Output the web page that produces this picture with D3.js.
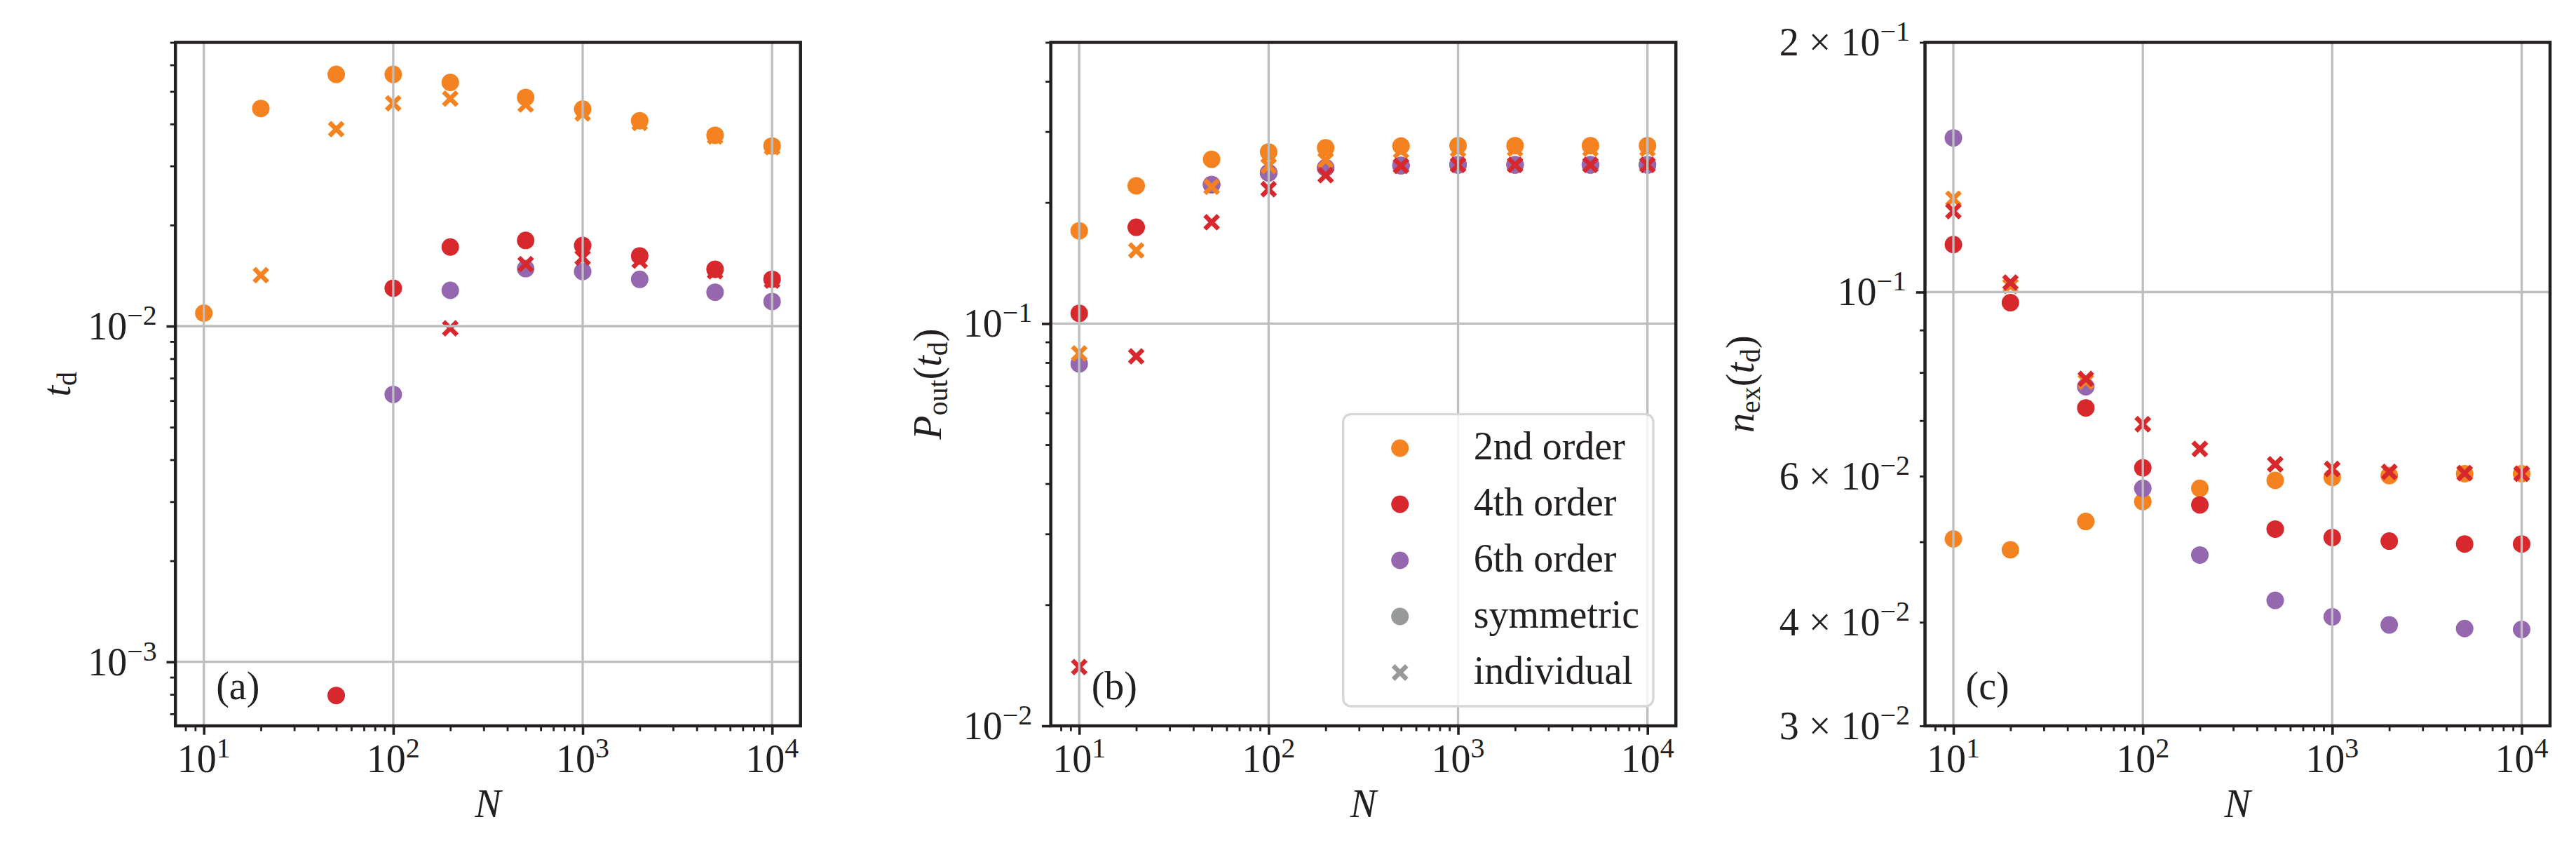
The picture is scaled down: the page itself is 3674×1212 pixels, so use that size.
<!DOCTYPE html>
<html>
<head>
<meta charset="utf-8">
<script src="https://cdn.jsdelivr.net/npm/d3@7"></script>
<style>
  body { margin: 0; background: #fff; }
  svg text { font-family: "Liberation Serif", "DejaVu Serif", serif; fill: #231f20; }
</style>
</head>
<body>
<svg id="fig" width="3674" height="1212"></svg>
<script>
// system sizes
const N = [10, 20, 50, 100, 200, 500, 1000, 2000, 5000, 10000];

// (a) t_d
const tdSym2 = [0.01093, 0.0445, 0.0562, 0.0562, 0.0532, 0.0480, 0.0443, 0.0409, 0.0370, 0.0344];
const tdInd2 = [null, 0.01418, 0.0386, 0.0461, 0.0476, 0.0457, 0.0430, 0.0403, 0.0367, 0.0341];
const tdSym4 = [null, null, 0.000794, 0.01297, 0.0172, 0.0180, 0.01739, 0.01618, 0.01477, 0.01379];
const tdInd4 = [null, null, null, null, 0.00985, 0.0153, 0.0160, 0.01567, 0.01456, 0.01366];
const tdSym6 = [null, null, null, 0.00626, 0.01278, 0.01483, 0.01454, 0.01378, 0.01262, 0.01184];

// (b) P_out(t_d)
const pSym2 = [0.170, 0.220, 0.256, 0.267, 0.2735, 0.2762, 0.2768, 0.2768, 0.2768, 0.2768];
const pInd2 = [0.0843, 0.152, 0.2187, 0.2466, 0.2548, 0.2689, 0.271, 0.272, 0.272, 0.272];
const pSym4 = [0.106, 0.1735, 0.2216, 0.237, 0.2439, 0.247, 0.248, 0.248, 0.248, 0.248];
const pInd4 = [0.0140, 0.0829, 0.1786, 0.2158, 0.2337, 0.2466, 0.248, 0.248, 0.248, 0.248];
const pSym6 = [0.0794, null, 0.2216, 0.237, 0.2439, 0.247, 0.248, 0.248, 0.248, 0.248];

// (c) n_ex(t_d)
const nSym2 = [0.0504, 0.0489, 0.0529, 0.0559, 0.0580, 0.0593, 0.0598, 0.0601, 0.0604, 0.0604];
const nInd2 = [0.1296, 0.1017, 0.0780, 0.0693, 0.0647, 0.0620, 0.0612, 0.0607, 0.0605, 0.0604];
const nSym4 = [0.1141, 0.0971, 0.0725, 0.0614, 0.0554, 0.0518, 0.0506, 0.0501, 0.0497, 0.0497];
const nInd4 = [0.1252, 0.1027, 0.0786, 0.0693, 0.0647, 0.0620, 0.0612, 0.0607, 0.0605, 0.0604];
const nSym6 = [0.1534, null, 0.0769, 0.0580, 0.0482, 0.0425, 0.0406, 0.0397, 0.0393, 0.0392];

const legendLabels = ["2nd order", "4th order", "6th order", "symmetric", "individual"];
const panelTags = ["(a)", "(b)", "(c)"];

const ink = "#231f20", gridCol = "#bcbec0";
const col = {o2: "#f58220", o4: "#d7282e", o6: "#9467ae", gray: "#98999b"};

const W = 891.5, H = 974.6, TOP = 60.4;
const lefts = [250.2, 1498.7, 2745.5];
const xDomain = [Math.pow(10, 0.85), Math.pow(10, 4.15)];

const svg = d3.select("#fig");

function minorTicks(domain, e0, e1) {
  let out = [];
  for (let e = e0; e <= e1; e++)
    for (let k = 2; k <= 9; k++) {
      const v = k * Math.pow(10, e);
      if (v >= domain[0] * 0.999 && v <= domain[1] * 1.001) out.push(v);
    }
  return out;
}

function powLabel(t, mant, exp) {
  if (mant) t.append("tspan").text(mant + " × ");
  t.append("tspan").text("10");
  t.append("tspan").attr("dy", -21).attr("font-size", 40).text(exp);
}

const xPath = s => `M${-s},${-s}L${s},${s}M${-s},${s}L${s},${-s}`;

function drawPanel(i, cfg) {
  const g = svg.append("g").attr("transform", `translate(${lefts[i]},${TOP})`);
  const x = d3.scaleLog().domain(xDomain).range([0, W]);
  const y = d3.scaleLog().domain(cfg.yDomain).range([H, 0]);

  // symmetric dots first, then individual crosses
  cfg.dots.forEach(s => {
    g.append("g").selectAll("circle")
      .data(N.map((n, j) => [n, s.v[j]]).filter(d => d[1] != null))
      .join("circle")
      .attr("cx", d => x(d[0])).attr("cy", d => y(d[1]))
      .attr("r", 12.5).attr("fill", s.c);
  });
  cfg.crosses.forEach(s => {
    g.append("g").selectAll("path")
      .data(N.map((n, j) => [n, s.v[j]]).filter(d => d[1] != null))
      .join("path")
      .attr("transform", d => `translate(${x(d[0])},${y(d[1])})`)
      .attr("d", xPath(9.6))
      .attr("stroke", s.c).attr("stroke-width", 6.5).attr("fill", "none");
  });

  // grid above markers, as in the original
  const xMajor = [10, 100, 1000, 10000];
  g.append("g").selectAll("line").data(xMajor).join("line")
    .attr("x1", d => x(d)).attr("x2", d => x(d)).attr("y1", 0).attr("y2", H)
    .attr("stroke", gridCol).attr("stroke-width", 3.3);
  g.append("g").selectAll("line").data(cfg.yGrid).join("line")
    .attr("x1", 0).attr("x2", W).attr("y1", d => y(d)).attr("y2", d => y(d))
    .attr("stroke", gridCol).attr("stroke-width", 3.3);

  // axes ticks
  const styleAx = (sel, w) => {
    sel.select(".domain").remove();
    sel.selectAll("line").attr("stroke", ink).attr("stroke-width", w);
    sel.selectAll("text").remove();
  };
  g.append("g").attr("transform", `translate(0,${H})`)
    .call(d3.axisBottom(x).tickValues(minorTicks(xDomain, 0, 4)).tickSize(7.5).tickFormat(""))
    .call(s => styleAx(s, 2.8));
  g.append("g").attr("transform", `translate(0,${H})`)
    .call(d3.axisBottom(x).tickValues(xMajor).tickSize(12.7).tickFormat(""))
    .call(s => styleAx(s, 3.6));
  g.append("g")
    .call(d3.axisLeft(y).tickValues(cfg.yMinor).tickSize(7.5).tickFormat(""))
    .call(s => styleAx(s, 2.8));
  g.append("g")
    .call(d3.axisLeft(y).tickValues(cfg.yMajor).tickSize(12.7).tickFormat(""))
    .call(s => styleAx(s, 3.6));

  // tick labels
  xMajor.forEach((v, k) => {
    const t = g.append("text").attr("x", x(v)).attr("y", H + 66)
      .attr("text-anchor", "middle").attr("font-size", 56);
    powLabel(t, null, String(k + 1));
  });
  cfg.yLabels.forEach(l => {
    const t = g.append("text").attr("x", l.minor ? -21.5 : -26.5).attr("y", y(l.v) + 19)
      .attr("text-anchor", "end").attr("font-size", 56);
    powLabel(t, l.m, l.e);
  });

  // frame
  g.append("rect").attr("width", W).attr("height", H)
    .attr("fill", "none").attr("stroke", ink).attr("stroke-width", 4.5);

  // axis labels
  g.append("text").attr("x", W / 2).attr("y", H + 130).attr("text-anchor", "middle")
    .attr("font-size", 56).attr("font-style", "italic").text("N");
  const yl = g.append("text").attr("text-anchor", "middle").attr("font-size", 56)
    .attr("transform", `translate(${cfg.ylabelX},${H / 2}) rotate(-90)`);
  cfg.ylabel.forEach(p => {
    const ts = yl.append("tspan").text(p.t);
    if (p.it) ts.attr("font-style", "italic");
    if (p.sub) ts.attr("font-size", 40);
    if (p.dy) ts.attr("dy", p.dy);
  });

  g.append("text").attr("x", 58).attr("y", H - 38).attr("font-size", 56).text(panelTags[i]);
  return g;
}

const ga = drawPanel(0, {
  yDomain: [Math.pow(10, -3.1907), Math.pow(10, -1.1548)],
  yGrid: [1e-3, 1e-2], yMajor: [1e-3, 1e-2],
  yMinor: minorTicks([Math.pow(10, -3.1907), Math.pow(10, -1.1548)], -4, -2),
  yLabels: [{v: 1e-2, e: "−2"}, {v: 1e-3, e: "−3"}],
  ylabelX: -150,
  ylabel: [{t: "t", it: true}, {t: "d", sub: true, dy: 9}],
  dots: [{v: tdSym2, c: col.o2}, {v: tdSym4, c: col.o4}, {v: tdSym6, c: col.o6}],
  crosses: [{v: tdInd2, c: col.o2}, {v: tdInd4, c: col.o4}]
});

const gb = drawPanel(1, {
  yDomain: [0.01, 0.5],
  yGrid: [1e-2, 1e-1], yMajor: [1e-2, 1e-1],
  yMinor: minorTicks([0.01, 0.5], -2, -1),
  yLabels: [{v: 1e-1, e: "−1"}, {v: 1e-2, e: "−2"}],
  ylabelX: -157,
  ylabel: [{t: "P", it: true}, {t: "out", sub: true, dy: 9}, {t: "(", dy: -9},
           {t: "t", it: true}, {t: "d", sub: true, dy: 9}, {t: ")", dy: -9}],
  dots: [{v: pSym2, c: col.o2}, {v: pSym4, c: col.o4}, {v: pSym6, c: col.o6}],
  crosses: [{v: pInd2, c: col.o2}, {v: pInd4, c: col.o4}]
});

drawPanel(2, {
  yDomain: [0.03, 0.2],
  yGrid: [1e-1], yMajor: [1e-1],
  yMinor: minorTicks([0.03, 0.2], -2, -1),
  yLabels: [{v: 0.2, m: "2", e: "−1", minor: true}, {v: 0.1, e: "−1"},
            {v: 0.06, m: "6", e: "−2", minor: true}, {v: 0.04, m: "4", e: "−2", minor: true},
            {v: 0.03, m: "3", e: "−2", minor: true}],
  ylabelX: -245,
  ylabel: [{t: "n", it: true}, {t: "ex", sub: true, dy: 9}, {t: "(", dy: -9},
           {t: "t", it: true}, {t: "d", sub: true, dy: 9}, {t: ")", dy: -9}],
  dots: [{v: nSym2, c: col.o2}, {v: nSym4, c: col.o4}, {v: nSym6, c: col.o6}],
  crosses: [{v: nInd2, c: col.o2}, {v: nInd4, c: col.o4}]
});

// legend in panel (b)
const lg = gb.append("g").attr("transform", "translate(417,530.3)");
lg.append("rect").attr("width", 442.3).attr("height", 416.3).attr("rx", 11)
  .attr("fill", "#fff").attr("fill-opacity", 0.8)
  .attr("stroke", "#d6d6d6").attr("stroke-width", 3.3);
const legendCols = [col.o2, col.o4, col.o6, col.gray, col.gray];
legendLabels.forEach((lab, k) => {
  const cy = 48.3 + 80 * k;
  if (k < 4) {
    lg.append("circle").attr("cx", 81).attr("cy", cy).attr("r", 12.5).attr("fill", legendCols[k]);
  } else {
    lg.append("path").attr("transform", `translate(81,${cy})`).attr("d", xPath(9.6))
      .attr("stroke", legendCols[k]).attr("stroke-width", 6.5).attr("fill", "none");
  }
  lg.append("text").attr("x", 186).attr("y", cy + 16).attr("font-size", 56).text(lab);
});
</script>
</body>
</html>
